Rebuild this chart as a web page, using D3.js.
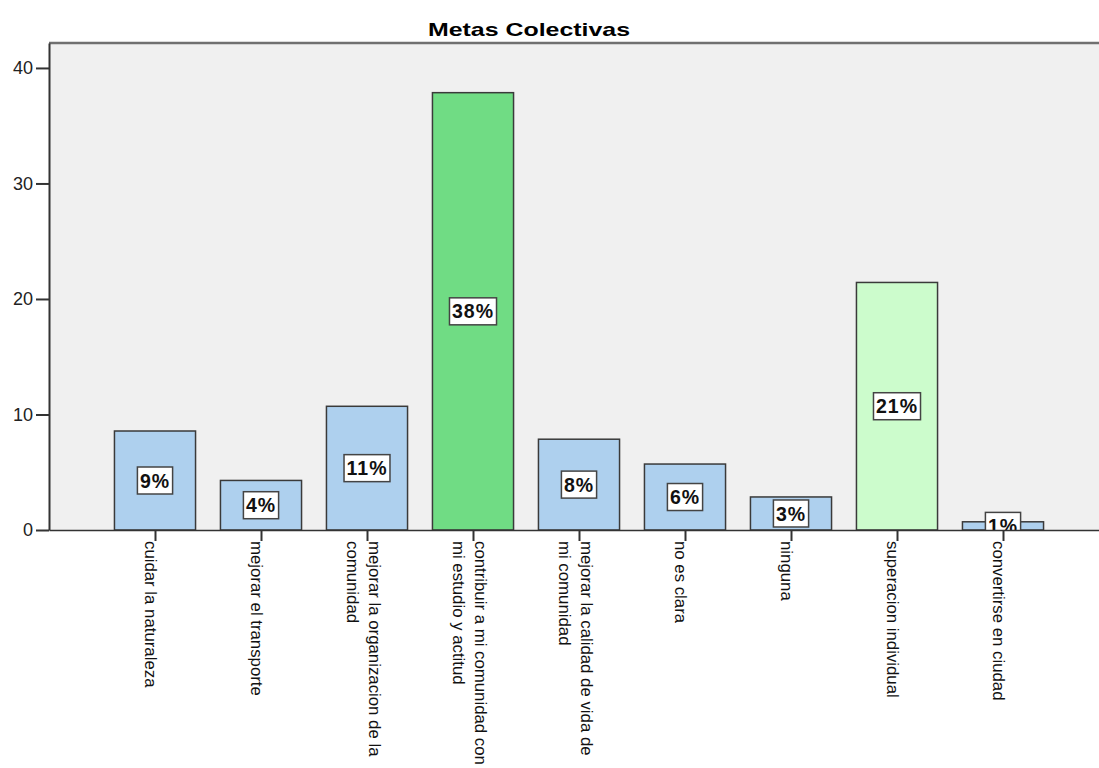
<!DOCTYPE html>
<html>
<head>
<meta charset="utf-8">
<script src="https://cdn.jsdelivr.net/npm/d3@7"></script>
<style>
  body { margin: 0; background: #fff; }
  svg { display: block; font-family: "Liberation Sans", Arial, sans-serif; }
</style>
</head>
<body>
<div id="chart"></div>
<script>
// Data
const title = "Metas Colectivas";
const categories = [
  ["cuidar la naturaleza"],
  ["mejorar el transporte"],
  ["mejorar la organizacion de la", "comunidad"],
  ["contribuir a mi comunidad con", "mi estudio y actitud"],
  ["mejorar la calidad de vida de", "mi comunidad"],
  ["no es clara"],
  ["ninguna"],
  ["superacion individual"],
  ["convertirse en ciudad"]
];
const values = [8.57, 4.29, 10.71, 37.86, 7.86, 5.71, 2.86, 21.43, 0.71];
const pctLabels = ["9%", "4%", "11%", "38%", "8%", "6%", "3%", "21%", "1%"];
const barColors = ["#aed0ee", "#aed0ee", "#aed0ee", "#70dc84", "#aed0ee", "#aed0ee", "#aed0ee", "#ccfccc", "#aed0ee"];
const yTicks = [0, 10, 20, 30, 40];

// Dimensions
const width = 1099;
const height = 768;
const plot = { left: 49, top: 43, right: 1109, bottom: 530 };

const svg = d3.select("#chart").append("svg")
  .attr("width", width)
  .attr("height", height);

const x = d3.scalePoint()
  .domain(d3.range(categories.length))
  .range([plot.left, plot.right])
  .padding(1);

const y = d3.scaleLinear()
  .domain([0, 42.16])
  .range([plot.bottom, plot.top]);

const barWidth = x.step() * 0.765;

// Plot background
svg.append("rect")
  .attr("x", plot.left)
  .attr("y", plot.top)
  .attr("width", plot.right - plot.left)
  .attr("height", plot.bottom - plot.top)
  .attr("fill", "#f0f0f0");

svg.append("clipPath").attr("id", "plotClip")
  .append("rect")
  .attr("x", plot.left)
  .attr("y", plot.top)
  .attr("width", plot.right - plot.left)
  .attr("height", plot.bottom - plot.top);

// Top frame line
svg.append("line")
  .attr("x1", plot.left).attr("x2", plot.right)
  .attr("y1", plot.top).attr("y2", plot.top)
  .attr("stroke", "#707070")
  .attr("stroke-width", 2.5);

// Bars
svg.append("g").selectAll("rect")
  .data(values)
  .join("rect")
  .attr("x", (d, i) => x(i) - barWidth / 2)
  .attr("y", d => y(d))
  .attr("width", barWidth)
  .attr("height", d => y(0) - y(d))
  .attr("fill", (d, i) => barColors[i])
  .attr("stroke", "#3a3a3a")
  .attr("stroke-width", 1.5);

// Percentage labels in white boxes
const lab = svg.append("g")
  .attr("clip-path", "url(#plotClip)")
  .selectAll("g")
  .data(values)
  .join("g")
  .attr("transform", (d, i) => `translate(${x(i)},${(y(d) + y(0)) / 2})`);

lab.append("text")
  .attr("text-anchor", "middle")
  .attr("dy", "0.36em")
  .attr("font-size", 19.5)
  .attr("font-weight", "bold")
  .attr("fill", "#111")
  .attr("letter-spacing", 1)
  .text((d, i) => pctLabels[i]);

lab.each(function () {
  const g = d3.select(this);
  const bb = g.select("text").node().getBBox();
  g.insert("rect", "text")
    .attr("x", -bb.width / 2 - 2.5)
    .attr("y", -13.5)
    .attr("width", bb.width + 5)
    .attr("height", 27)
    .attr("fill", "#fff")
    .attr("stroke", "#444")
    .attr("stroke-width", 1.5);
});

// Y axis
const yAxis = svg.append("g")
  .attr("transform", `translate(${plot.left},0)`)
  .call(d3.axisLeft(y).tickValues(yTicks).tickSize(13).tickPadding(3).tickSizeOuter(0));
yAxis.select(".domain").attr("stroke", "#333").attr("stroke-width", 2);
yAxis.selectAll(".tick line").attr("stroke", "#333").attr("stroke-width", 2);
yAxis.selectAll(".tick text")
  .attr("font-size", 18)
  .attr("font-family", "Liberation Sans, Arial, sans-serif")
  .attr("fill", "#222");

// X axis
const xAxis = svg.append("g")
  .attr("transform", `translate(0,${plot.bottom})`)
  .call(d3.axisBottom(x).tickSize(11).tickSizeOuter(0).tickFormat(""));
xAxis.select(".domain").attr("stroke", "#333").attr("stroke-width", 1.5);
xAxis.selectAll(".tick line").attr("stroke", "#333").attr("stroke-width", 2);

// Rotated category labels
const lineGap = 22;
categories.forEach((lines, i) => {
  const g = svg.append("g")
    .attr("transform", `translate(${x(i)},${plot.bottom + 11}) rotate(90)`);
  const b0 = 10 - (lines.length - 1) * 12;
  lines.forEach((line, j) => {
    g.append("text")
      .attr("x", 0)
      .attr("y", b0 + j * lineGap)
      .attr("font-size", 16.8)
      .attr("fill", "#111")
      .text(line);
  });
});

// Title
svg.append("text")
  .attr("x", 529)
  .attr("y", 36)
  .attr("text-anchor", "middle")
  .attr("font-size", 18.5)
  .attr("font-weight", "bold")
  .attr("textLength", 202)
  .attr("lengthAdjust", "spacingAndGlyphs")
  .text(title);
</script>
</body>
</html>
